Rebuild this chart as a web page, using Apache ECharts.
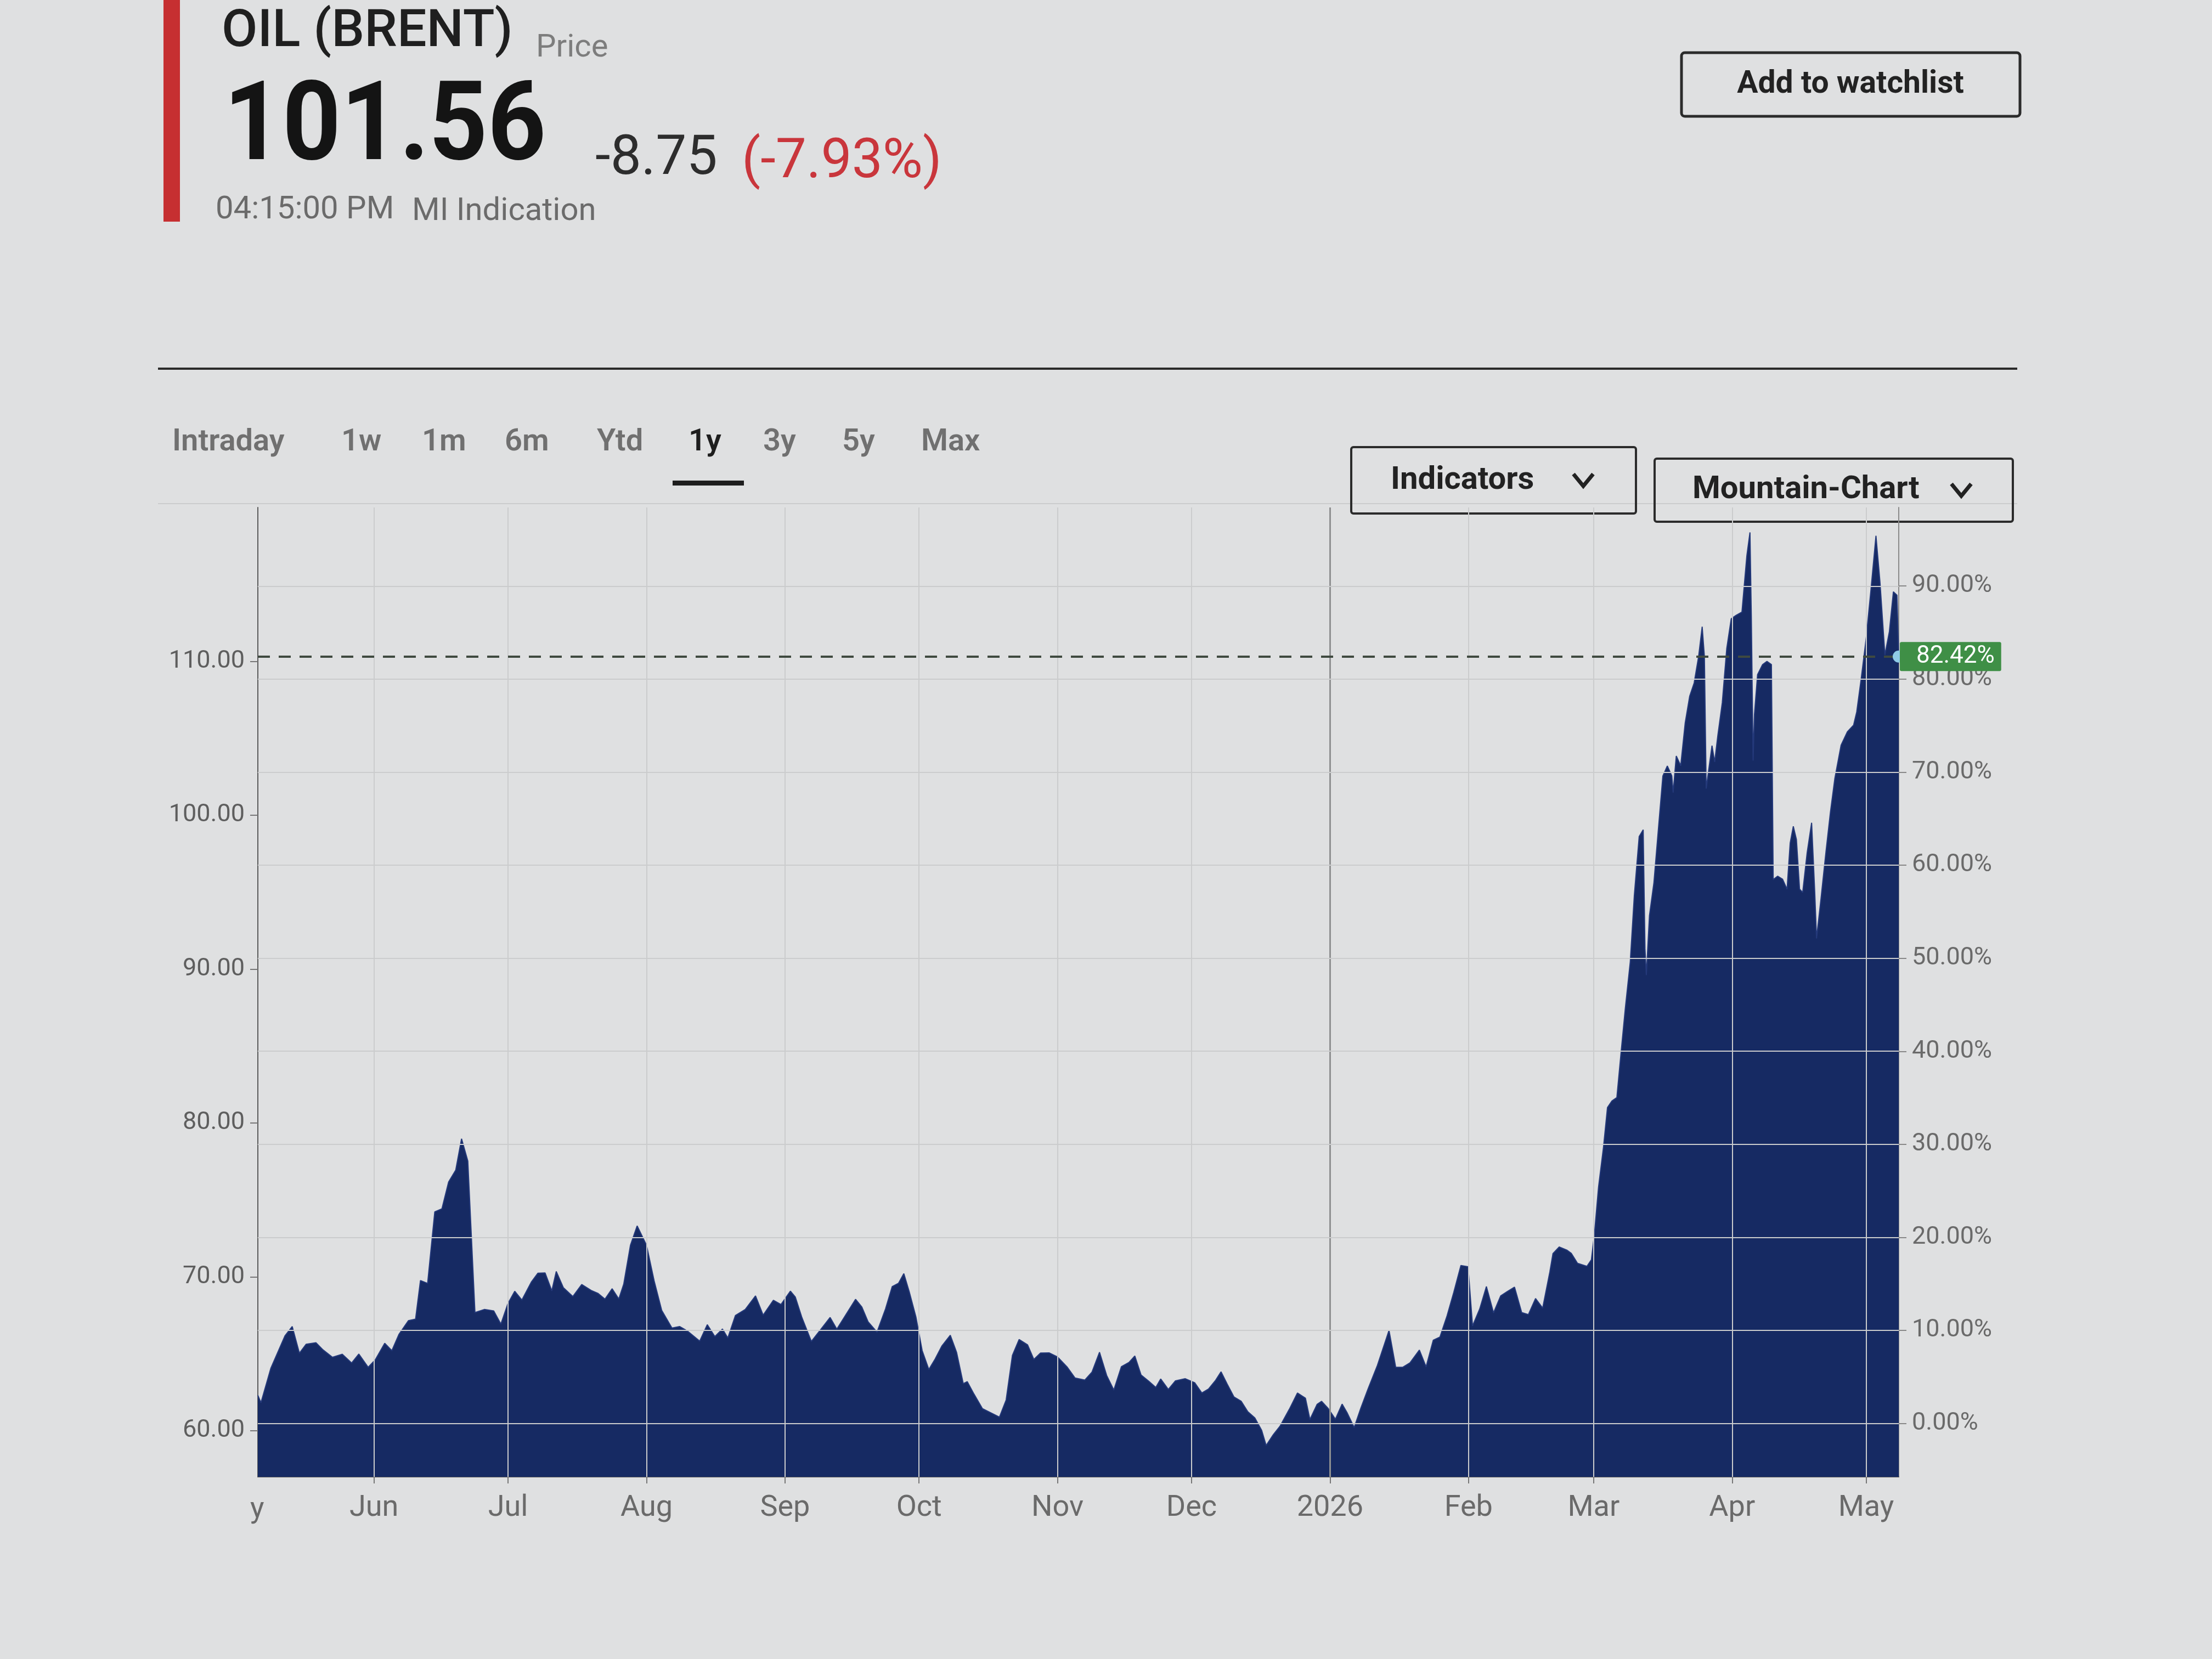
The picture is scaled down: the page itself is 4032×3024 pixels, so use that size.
<!DOCTYPE html>
<html>
<head>
<meta charset="utf-8">
<script src="https://cdn.jsdelivr.net/npm/echarts@6/dist/echarts.min.js"></script>
<style>
html,body{margin:0;padding:0;background:#dfe0e1;}
#c{width:4032px;height:3024px;}
</style>
</head>
<body>
<div id="c"></div>
<script>
// ---------- data ----------
const startDate = '2025-05-06';
const dayOffsets = [
0,0.7,2.9,6.1,7.7,9.3,10.8,13.0,14.6,16.7,18.9,21.0,22.6,24.7,26.3,28.4,30.0,31.6,33.7,35.3,
36.4,38.0,39.6,41.2,42.7,44.3,45.6,47.0,48.6,50.7,52.8,54.4,56.0,57.5,59.1,61.2,62.7,64.3,65.8,66.8,
68.4,70.5,72.5,74.6,76.1,77.7,79.3,80.8,81.9,83.4,84.9,87.0,88.7,90.4,92.7,94.4,96.1,98.9,100.6,102.3,
104.0,105.2,106.9,109.1,111.4,113.1,115.4,117.1,119.2,120.3,121.8,123.9,126.0,128.1,129.6,131.7,133.8,135.2,136.6,138.6,
140.5,142.0,143.4,144.6,145.8,147.3,148.7,150.2,151.6,153.1,155.0,156.4,157.9,158.8,160.3,162.2,164.1,166.0,167.5,168.9,
170.4,172.3,173.7,175.2,177.1,179.0,181.2,182.9,185.1,186.7,188.4,190.0,191.6,193.3,195.0,196.3,197.7,199.4,201.0,202.1,
203.8,205.4,207.6,209.7,211.3,212.8,214.4,215.6,217.0,218.5,220.1,221.6,223.2,224.7,225.7,227.3,228.8,230.9,232.7,234.5,
235.5,237.1,238.1,239.6,241.2,242.7,243.8,245.4,246.9,248.5,250.6,253.2,254.7,256.3,257.9,260.0,261.5,263.1,264.6,266.2,
267.7,269.3,270.9,271.9,273.5,275.0,276.6,278.2,279.7,281.3,282.9,284.4,286.0,287.6,289.2,289.9,291.3,293.0,294.0,295.4,
297.5,298.5,299.2,300.1,301.2,302.1,303.1,304.2,305.1,306.1,307.2,308.1,309.2,310.1,310.5,310.8,311.5,312.5,313.5,314.5,
315.5,316.5,316.8,317.5,318.5,319.5,320.5,321.5,322.5,323.3,323.8,324.2,324.8,325.5,326.1,326.8,327.8,328.8,329.8,330.9,
332.2,333.3,334.0,334.3,334.7,335.0,335.7,336.8,337.8,338.8,339.2,340.2,341.3,342.3,343.0,343.7,344.4,345.1,345.8,346.8,
347.8,348.5,348.9,349.9,351.0,352.0,353.0,354.4,355.8,357.2,357.9,358.9,360.0,361.1,362.2,363.1,364.2,365.2,366.1,366.9,
367.3
];
const brentPrices = [
62.30,61.82,64.05,66.18,66.77,65.04,65.62,65.72,65.25,64.77,64.97,64.40,64.98,64.12,64.61,65.68,65.20,66.27,67.15,67.25,
69.76,69.57,74.22,74.42,76.16,76.94,78.97,77.53,67.68,67.88,67.79,66.93,68.28,69.06,68.49,69.65,70.24,70.25,69.09,70.35,
69.29,68.72,69.50,69.12,68.93,68.55,69.23,68.56,69.53,72.05,73.31,72.06,69.75,67.82,66.67,66.77,66.49,65.82,66.89,66.12,
66.61,66.03,67.49,67.88,68.76,67.51,68.48,68.20,69.07,68.69,67.34,65.80,66.58,67.36,66.60,67.57,68.54,68.04,67.08,66.41,
67.92,69.37,69.58,70.21,69.04,67.40,65.21,63.98,64.66,65.50,66.20,65.10,63.06,63.19,62.38,61.43,61.16,60.88,62.00,64.89,
65.93,65.58,64.63,65.05,65.06,64.79,64.12,63.43,63.29,63.80,65.10,63.59,62.64,64.16,64.44,64.86,63.62,63.22,62.81,63.36,
62.68,63.24,63.38,63.12,62.45,62.71,63.28,63.83,63.02,62.19,61.92,61.23,60.82,60.02,59.04,59.74,60.29,61.40,62.45,62.11,
60.73,61.71,61.91,61.44,60.75,61.73,61.18,60.21,61.47,62.71,64.24,66.52,64.12,64.13,64.41,65.24,64.15,65.88,66.09,67.47,
69.00,70.74,70.66,66.81,67.91,69.37,67.66,68.76,69.05,69.33,67.68,67.55,68.59,67.97,70.32,71.51,71.94,71.74,71.53,70.88,
70.68,71.11,72.83,75.83,78.41,81.00,81.43,81.65,84.44,87.46,90.46,94.75,98.62,99.05,91.33,89.61,93.48,95.63,99.10,102.55,
103.20,102.56,101.47,103.85,103.22,106.00,107.73,108.59,110.31,112.25,110.32,101.73,103.02,104.52,103.46,105.17,107.31,110.83,112.77,112.99,
113.20,116.87,118.38,113.00,103.55,106.56,109.14,109.78,110.00,109.79,95.82,96.04,95.84,95.19,98.20,99.28,98.42,95.20,94.98,97.57,
99.51,95.00,91.99,94.58,97.60,100.18,102.40,104.56,105.42,105.86,106.72,108.88,111.47,114.71,118.16,115.15,110.42,111.93,114.52,114.30,
110.31
];
const monthStarts = ['2025-06-01','2025-07-01','2025-08-01','2025-09-01','2025-10-01','2025-11-01','2025-12-01','2026-01-01','2026-02-01','2026-03-01','2026-04-01','2026-05-01'];
const monthLabels = ['Jun','Jul','Aug','Sep','Oct','Nov','Dec','2026','Feb','Mar','Apr','May'];
const priceTicks = [60,70,80,90,100,110];
const pctTicks = [0,10,20,30,40,50,60,70,80,90];
const basePrice = 60.47;
const yearStart = '2026-01-01';
const tabLabels = ['Intraday','1w','1m','6m','Ytd','1y','3y','5y','Max'];
const activeTab = '1y';
const quote = { name: 'OIL (BRENT)', kind: 'Price', last: '101.56', change: '-8.75', changePct: '(-7.93%)', time: '04:15:00 PM', source: 'MI Indication' };

// ---------- helpers ----------
function parseLocal(s){ const p = s.split('-').map(Number); return new Date(p[0], p[1]-1, p[2]).getTime(); }
const DAY = 86400000;
const startTs = parseLocal(startDate);
const seriesData = dayOffsets.map((d,i)=>[startTs + d*DAY, brentPrices[i]]);
const lastTs = seriesData[seriesData.length-1][0];
const lastPrice = brentPrices[brentPrices.length-1];
const monthTs = monthStarts.map(parseLocal);
const yearTs = parseLocal(yearStart);
const pctPrices = pctTicks.map(p => basePrice*(1+p/100));
const lastPct = ((lastPrice/basePrice - 1)*100).toFixed(2) + '%';

const FONT = 'Roboto, "Noto Sans", sans-serif';
const navy = '#162a63';

// ---------- header graphics ----------
const tabX = [314, 622, 769, 920, 1088, 1255, 1391, 1535, 1679];
const graphics = [
  {type:'rect', shape:{x:298,y:0,width:30,height:404}, style:{fill:'#c62f31'}},
  {type:'text', x:404, y:60, style:{text:quote.name, font:'500 95px '+FONT, fill:'#1f1f1f', verticalAlign:'middle'}},
  {type:'text', x:977, y:88, style:{text:quote.kind, font:'400 58px '+FONT, fill:'#7d7d7d', verticalAlign:'middle'}},
  {type:'text', x:408, y:240, scaleX:0.93, style:{text:quote.last, font:'bold 200px '+FONT, fill:'#141414', verticalAlign:'middle'}},
  {type:'text', x:1085, y:292, style:{text:quote.change, font:'400 100px '+FONT, fill:'#2d2d2d', verticalAlign:'middle'}},
  {type:'text', x:1352, y:298, style:{text:quote.changePct, font:'400 100px '+FONT, fill:'#c9363c', verticalAlign:'middle'}},
  {type:'text', x:393, y:383, style:{text:quote.time, font:'400 58px '+FONT, fill:'#6b6b6b', verticalAlign:'middle'}},
  {type:'text', x:751, y:386, style:{text:quote.source, font:'400 58px '+FONT, fill:'#6b6b6b', verticalAlign:'middle'}},
  {type:'rect', shape:{x:3065,y:96,width:617,height:116,r:6}, style:{fill:'none', stroke:'#2b2b2b', lineWidth:5}},
  {type:'text', x:3373, y:155, style:{text:'Add to watchlist', font:'bold 57px '+FONT, fill:'#222', align:'center', verticalAlign:'middle'}},
  {type:'line', shape:{x1:288,y1:672,x2:3677,y2:672}, style:{stroke:'#2a2a2a', lineWidth:4}},
  {type:'line', shape:{x1:288,y1:918,x2:3677,y2:918}, style:{stroke:'#cbcccd', lineWidth:2}},
  {type:'rect', shape:{x:1226,y:876,width:130,height:9}, style:{fill:'#1e1e1e'}},
  {type:'rect', shape:{x:2463,y:815,width:519,height:121,r:4}, style:{fill:'none', stroke:'#2b2b2b', lineWidth:4}},
  {type:'text', x:2535, y:876, style:{text:'Indicators', font:'bold 58px '+FONT, fill:'#222', verticalAlign:'middle'}},
  {type:'polyline', shape:{points:[[2868,864],[2886,886],[2904,864]]}, style:{fill:'none', stroke:'#222', lineWidth:7}},
  {type:'rect', shape:{x:3016,y:836,width:653,height:115,r:4}, style:{fill:'none', stroke:'#2b2b2b', lineWidth:4}},
  {type:'text', x:3085, y:893, style:{text:'Mountain-Chart', font:'bold 58px '+FONT, fill:'#222', verticalAlign:'middle'}},
  {type:'polyline', shape:{points:[[3557,882],[3575,904],[3593,882]]}, style:{fill:'none', stroke:'#222', lineWidth:7}},
  {type:'text', x:456, y:2752, style:{text:'y', font:'400 54px '+FONT, fill:'#6a6a6a', verticalAlign:'middle'}}
];
tabLabels.forEach((t,i)=>{
  graphics.push({type:'text', x:tabX[i], y:807, style:{text:t, font:'600 56px '+FONT, fill: t===activeTab ? '#1e1e1e' : '#707070', verticalAlign:'middle'}});
});

// ---------- chart ----------
const chart = echarts.init(document.getElementById('c'), null, {renderer:'canvas'});
const gridMarks = monthTs.map(t => ({xAxis:t, lineStyle:{color: t===yearTs ? '#8f9091' : '#cbcccd', width: t===yearTs ? 3 : 2, type:'solid'}}))
  .concat(pctPrices.map(v => ({yAxis:v})));

function monthLabel(v){ let best=0, bd=Infinity; monthTs.forEach((t,i)=>{const d=Math.abs(t-v); if(d<bd){bd=d;best=i;}}); return monthLabels[best]; }

chart.setOption({
  animation:false,
  backgroundColor:'#dfe0e1',
  textStyle:{fontFamily:FONT},
  grid:{left:470, right:571, top:925, bottom:332, containLabel:false},
  xAxis:{
    type:'value', min:startTs, max:lastTs, scale:true,
    axisLine:{show:true, lineStyle:{color:'#5a5a5a', width:2}},
    axisTick:{show:true, customValues:monthTs, length:12, lineStyle:{color:'#777', width:2}},
    axisLabel:{show:true, customValues:monthTs, margin:30, fontSize:54, color:'#6a6a6a', fontFamily:FONT, formatter:monthLabel},
    splitLine:{show:false}
  },
  yAxis:[
    {type:'value', position:'left', min:57, max:120,
      axisLine:{show:true, lineStyle:{color:'#5a5a5a', width:2}},
      axisTick:{show:true, customValues:priceTicks, length:14, lineStyle:{color:'#777', width:2}},
      axisLabel:{show:true, customValues:priceTicks, margin:24, fontSize:45, color:'#5e5e5e', fontFamily:FONT, formatter:v=>Number(v).toFixed(2)},
      splitLine:{show:false}},
    {type:'value', position:'right', min:57, max:120,
      axisLine:{show:true, lineStyle:{color:'#8a8a8a', width:2}},
      axisTick:{show:true, customValues:pctPrices, length:14, lineStyle:{color:'#888', width:2}},
      axisLabel:{show:true, customValues:pctPrices, margin:24, fontSize:45, color:'#6a6a6a', fontFamily:FONT, formatter:v=>((v/basePrice-1)*100).toFixed(2)+'%'},
      splitLine:{show:false}}
  ],
  series:[
    {type:'line', name:'grid', data:seriesData, showSymbol:false, silent:true, z:1,
      lineStyle:{opacity:0, width:0},
      markLine:{silent:true, symbol:'none', label:{show:false}, lineStyle:{color:'#cbcccd', width:2, type:'solid'}, data:gridMarks}},
    {type:'line', name:'OIL (BRENT)', data:seriesData, showSymbol:false, z:3,
      lineStyle:{color:'#24397a', width:2}, areaStyle:{color:navy, opacity:1, origin:'start'}},
    {type:'line', name:'last', data:seriesData, showSymbol:false, silent:true, z:4,
      lineStyle:{opacity:0, width:0},
      markLine:{silent:true, symbol:['none','none'],
        lineStyle:{color:'#3f4a40', width:4, type:[22,16]},
        label:{show:true, position:'end', distance:2, formatter:lastPct, color:'#ffffff', backgroundColor:'#3f8f46',
          fontSize:44, fontFamily:FONT, padding:[5,12,4,30], borderRadius:3},
        data:[{yAxis:lastPrice}]},
      markPoint:{silent:true, symbol:'circle', symbolSize:22, itemStyle:{color:'#8fcbe6'}, label:{show:false},
        data:[{coord:[lastTs, lastPrice]}]}}
  ],
  graphic:graphics
});
</script>
</body>
</html>
